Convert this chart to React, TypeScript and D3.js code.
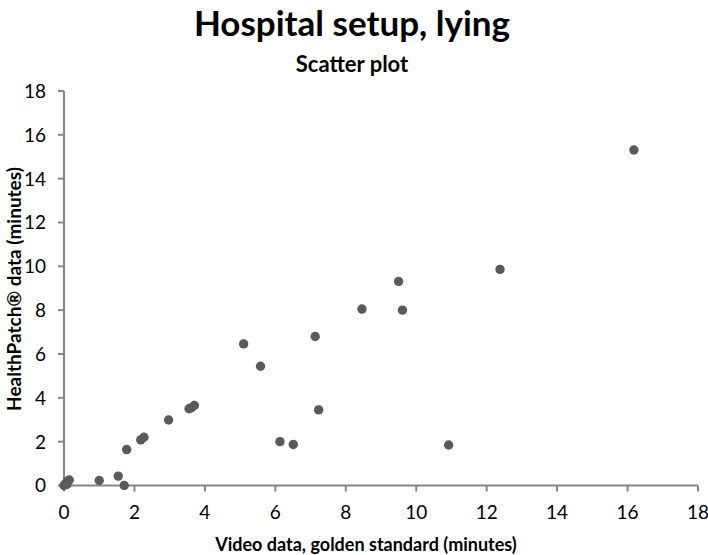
import React from "react";
import * as d3 from "d3";

const videoMinutes = [16.18, 12.38, 9.5, 8.46, 9.61, 7.13, 5.1, 5.58, 7.23, 6.13, 6.51, 10.92, 3.55, 3.62, 3.7, 2.97, 2.18, 2.27, 1.78, 1.0, 1.54, 1.71, 0, 0.05, 0.1, 0.15, 0.08];
const patchMinutes = [15.31, 9.86, 9.31, 8.05, 8.0, 6.8, 6.46, 5.44, 3.45, 2.0, 1.87, 1.85, 3.5, 3.55, 3.65, 2.99, 2.08, 2.2, 1.64, 0.23, 0.43, 0, 0, 0.1, 0.2, 0.25, 0.05];
const xTicks = [0, 2, 4, 6, 8, 10, 12, 14, 16, 18];
const yTicks = [0, 2, 4, 6, 8, 10, 12, 14, 16, 18];

const title = "Hospital setup, lying";
const subtitle = "Scatter plot";
const xTitle = "Video data, golden standard  (minutes)";
const yTitle = "HealthPatch® data (minutes)";

export default function App() {
  const W = 708, H = 555;
  const x = d3.scaleLinear().domain([0, 18]).range([64, 698]);
  const y = d3.scaleLinear().domain([0, 18]).range([485.5, 91]);
  const axisColor = "#868686";
  const font = "Lato, 'Open Sans', sans-serif";
  const pts = videoMinutes.map((v, i) => ({ x: v, y: patchMinutes[i] }));
  return (
    <svg width={W} height={H} style={{ position: "absolute", left: 0, top: 0 }} fontFamily={font}>
      <rect width={W} height={H} fill="#fff" />
      <text x={352} y={36} textAnchor="middle" fontSize={35} fontWeight="bold" fill="#000">{title}</text>
      <text x={352} y={72} textAnchor="middle" fontSize={22} fontWeight="bold" fill="#000">{subtitle}</text>
      <line x1={x(0)} x2={x(18)} y1={y(0)} y2={y(0)} stroke={axisColor} strokeWidth={2} />
      <line x1={x(0)} x2={x(0)} y1={y(0)} y2={y(18)} stroke={axisColor} strokeWidth={2} />
      {xTicks.map((t) => (
        <g key={"x" + t}>
          <line x1={x(t)} x2={x(t)} y1={y(0)} y2={y(0) + 6} stroke={axisColor} strokeWidth={2} />
          <text x={x(t)} y={y(0) + 33} textAnchor="middle" fontSize={19} fill="#000">{t}</text>
        </g>
      ))}
      {yTicks.map((t) => (
        <g key={"y" + t}>
          <line x1={x(0) - 6} x2={x(0)} y1={y(t)} y2={y(t)} stroke={axisColor} strokeWidth={2} />
          <text x={46} y={y(t)} dy="0.36em" textAnchor="end" fontSize={19} fill="#000">{t}</text>
        </g>
      ))}
      {pts.map((p, i) => (
        <circle key={i} cx={x(p.x)} cy={y(p.y)} r={4.7} fill="#5a5a5a" />
      ))}
      <text x={366} y={551} textAnchor="middle" fontSize={18} fontWeight="bold" fill="#000">{xTitle}</text>
      <text transform={`translate(21,289) rotate(-90)`} textAnchor="middle" fontSize={19} fontWeight="bold" fill="#000">{yTitle}</text>
    </svg>
  );
}
